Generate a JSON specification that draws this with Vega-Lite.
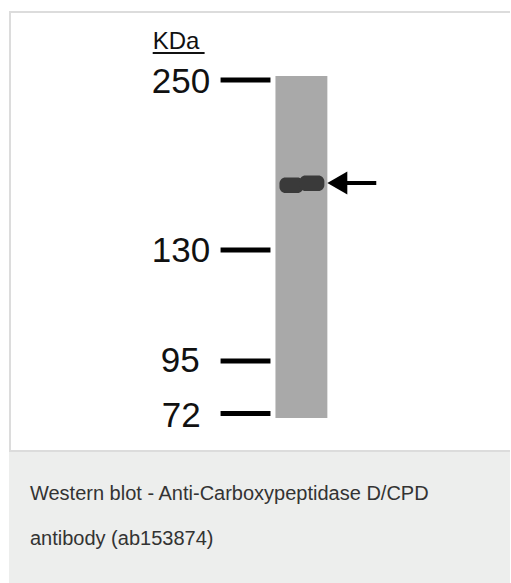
{
  "$schema": "https://vega.github.io/schema/vega-lite/v6.json",
  "autosize": {"type": "fit", "contains": "padding"},
  "width": 511,
  "height": 583,
  "padding": 0,
  "background": "white",
  "config": {"view": {"stroke": null}, "axis": {"disable": true}},
  "datasets": {
    "panel": [{"part": "caption panel", "x": 9, "x2": 511, "y": 451, "y2": 583}],
    "frame": [
      {"side": "top", "x": 9, "x2": 511, "y": 12, "y2": 12},
      {"side": "left", "x": 10, "x2": 10, "y": 11, "y2": 452},
      {"side": "bottom", "x": 9, "x2": 511, "y": 451, "y2": 451}
    ],
    "lane": [{"part": "lane", "x": 276, "x2": 328, "y": 76, "y2": 418}],
    "band": [
      {"lobe": "left", "x": 280, "x2": 304, "y": 177.5, "y2": 193},
      {"lobe": "right", "x": 300, "x2": 325, "y": 175.5, "y2": 191}
    ],
    "markers": [
      {"kDa": "250", "lx": 152, "ly": 93, "x": 221, "x2": 271, "y": 77.5, "y2": 82.5},
      {"kDa": "130", "lx": 152, "ly": 262, "x": 221, "x2": 271, "y": 247.5, "y2": 252.5},
      {"kDa": "95", "lx": 161, "ly": 372, "x": 221, "x2": 271, "y": 358.5, "y2": 363.5},
      {"kDa": "72", "lx": 162, "ly": 427, "x": 221, "x2": 271, "y": 411, "y2": 416}
    ],
    "unit": [{"label": "KDa", "x": 153, "x2": 205, "y": 49, "uy": 53}],
    "arrow": [{"part": "arrow", "x": 345, "x2": 377, "y": 183, "hx": 338}],
    "caption": [
      {"line": "Western blot - Anti-Carboxypeptidase D/CPD", "x": 30, "y": 500},
      {"line": "antibody (ab153874)", "x": 30, "y": 545}
    ]
  },
  "layer": [
    {
      "data": {"name": "panel"},
      "mark": {"type": "rect", "fill": "#edeeed"},
      "encoding": {
        "x": {"field": "x", "type": "quantitative", "scale": {"domain": [0, 511], "nice": false, "zero": false}, "axis": null},
        "x2": {"field": "x2"},
        "y": {"field": "y", "type": "quantitative", "scale": {"domain": [0, 583], "nice": false, "zero": false, "reverse": true}, "axis": null},
        "y2": {"field": "y2"}
      }
    },
    {
      "data": {"name": "frame"},
      "mark": {"type": "rule", "stroke": "#dcdcdc", "strokeWidth": 2},
      "encoding": {
        "x": {"field": "x", "type": "quantitative"},
        "x2": {"field": "x2"},
        "y": {"field": "y", "type": "quantitative"},
        "y2": {"field": "y2"}
      }
    },
    {
      "data": {"name": "lane"},
      "mark": {"type": "rect", "fill": "#a9a9a9"},
      "encoding": {
        "x": {"field": "x", "type": "quantitative"},
        "x2": {"field": "x2"},
        "y": {"field": "y", "type": "quantitative"},
        "y2": {"field": "y2"}
      }
    },
    {
      "data": {"name": "band"},
      "mark": {"type": "rect", "fill": "#3a3a3a", "cornerRadius": 6},
      "encoding": {
        "x": {"field": "x", "type": "quantitative"},
        "x2": {"field": "x2"},
        "y": {"field": "y", "type": "quantitative"},
        "y2": {"field": "y2"}
      }
    },
    {
      "data": {"name": "markers"},
      "mark": {"type": "rect", "fill": "black"},
      "encoding": {
        "x": {"field": "x", "type": "quantitative"},
        "x2": {"field": "x2"},
        "y": {"field": "y", "type": "quantitative"},
        "y2": {"field": "y2"}
      }
    },
    {
      "data": {"name": "markers"},
      "mark": {"type": "text", "align": "left", "baseline": "alphabetic", "font": "Liberation Sans", "fontSize": 35, "fill": "#111"},
      "encoding": {
        "x": {"field": "lx", "type": "quantitative"},
        "y": {"field": "ly", "type": "quantitative"},
        "text": {"field": "kDa"}
      }
    },
    {
      "data": {"name": "unit"},
      "mark": {"type": "text", "align": "left", "baseline": "alphabetic", "font": "Liberation Sans", "fontSize": 24, "fill": "#111"},
      "encoding": {
        "x": {"field": "x", "type": "quantitative"},
        "y": {"field": "y", "type": "quantitative"},
        "text": {"field": "label"}
      }
    },
    {
      "data": {"name": "unit"},
      "mark": {"type": "rule", "stroke": "#111", "strokeWidth": 2},
      "encoding": {
        "x": {"field": "x", "type": "quantitative"},
        "x2": {"field": "x2"},
        "y": {"field": "uy", "type": "quantitative"}
      }
    },
    {
      "data": {"name": "arrow"},
      "mark": {"type": "rule", "stroke": "black", "strokeWidth": 4},
      "encoding": {
        "x": {"field": "x", "type": "quantitative"},
        "x2": {"field": "x2"},
        "y": {"field": "y", "type": "quantitative"}
      }
    },
    {
      "data": {"name": "arrow"},
      "mark": {"type": "point", "shape": "M -1 0 L 1 -1.15 L 1 1.15 Z", "filled": true, "fill": "black", "opacity": 1, "size": 400, "strokeWidth": 0},
      "encoding": {
        "x": {"field": "hx", "type": "quantitative"},
        "y": {"field": "y", "type": "quantitative"}
      }
    },
    {
      "data": {"name": "caption"},
      "mark": {"type": "text", "align": "left", "baseline": "alphabetic", "font": "Liberation Sans", "fontSize": 20, "fill": "#333333"},
      "encoding": {
        "x": {"field": "x", "type": "quantitative"},
        "y": {"field": "y", "type": "quantitative"},
        "text": {"field": "line"}
      }
    }
  ]
}
